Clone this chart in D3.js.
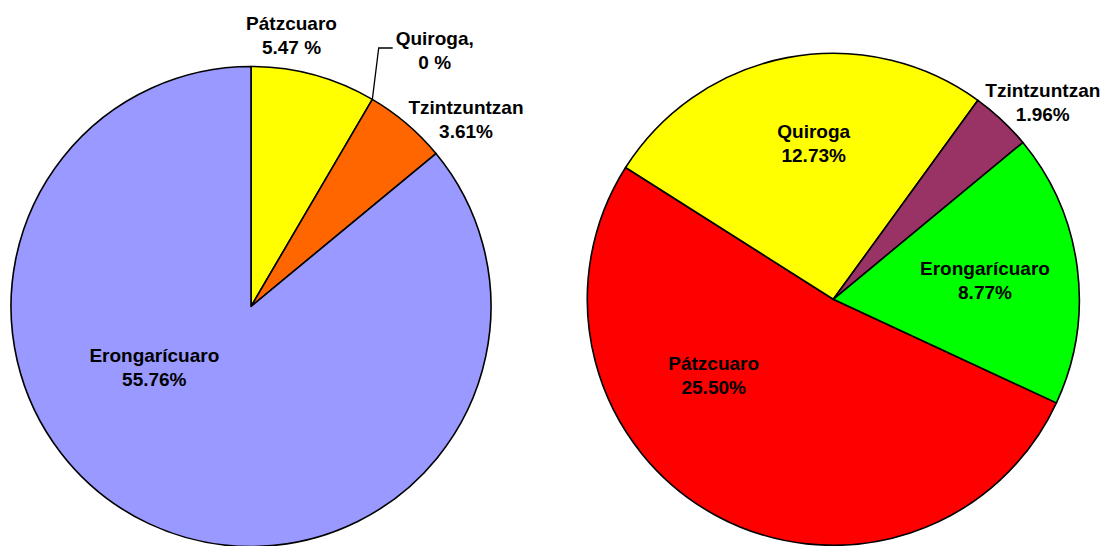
<!DOCTYPE html>
<html>
<head>
<meta charset="utf-8">
<script src="https://cdn.jsdelivr.net/npm/d3@7"></script>
<style>
  body { margin: 0; background: #fff; }
  svg { display: block; }
  .lbl { font-family: "Liberation Sans", Arial, sans-serif; font-weight: bold; font-size: 19px; fill: #000; }
</style>
</head>
<body>
<svg id="chart" width="1104" height="546"></svg>
<script>
// categories (same order in both pies)
var categories = ["Pátzcuaro", "Quiroga", "Tzintzuntzan", "Erongarícuaro"];

// left pie
var leftValues = [5.47, 0, 3.61, 55.76];
var leftNames = ["Pátzcuaro", "Quiroga,", "Tzintzuntzan", "Erongarícuaro"];
var leftPct = ["5.47 %", "0 %", "3.61%", "55.76%"];

// right pie
var rightValues = [25.50, 12.73, 1.96, 8.77];
var rightNames = ["Pátzcuaro", "Quiroga", "Tzintzuntzan", "Erongarícuaro"];
var rightPct = ["25.50%", "12.73%", "1.96%", "8.77%"];

var svg = d3.select("#chart");

var leftColor = d3.scaleOrdinal()
    .domain(categories)
    .range(["#FFFF00", "#00FFFF", "#FF6600", "#9999FF"]);

var rightColor = d3.scaleOrdinal()
    .domain(categories)
    .range(["#FF0000", "#FFFF00", "#993366", "#00FF00"]);

// label offsets from the pie center (first line baseline), hand tuned
var leftLabelPos = {
    "Pátzcuaro": [40.5, -277],
    "Quiroga": [183.7, -262],
    "Tzintzuntzan": [215, -193],
    "Erongarícuaro": [-96.7, 55.5]
};
var rightLabelPos = {
    "Pátzcuaro": [-119.6, 70.7],
    "Quiroga": [-19.6, -161.6],
    "Tzintzuntzan": [209.5, -202],
    "Erongarícuaro": [151.7, -24.3]
};

function drawPie(cx, cy, r, values, names, pcts, color, rotation, labelPos, leaderFor) {
    var data = categories.map(function(c, i) {
        return {cat: c, value: values[i], name: names[i], pct: pcts[i]};
    });

    var pie = d3.pie()
        .sort(null)
        .value(function(d) { return d.value; })
        .startAngle(rotation)
        .endAngle(rotation + 2 * Math.PI);

    var arc = d3.arc().innerRadius(0).outerRadius(r);

    var g = svg.append("g")
        .attr("transform", "translate(" + cx + "," + cy + ")");

    var arcs = pie(data);

    g.selectAll(".slice")
        .data(arcs.filter(function(d) { return d.data.value > 0; }))
        .enter()
        .append("path")
        .attr("class", "slice")
        .attr("d", arc)
        .attr("fill", function(d) { return color(d.data.cat); })
        .attr("stroke", "#000")
        .attr("stroke-width", 1.6)
        .attr("stroke-linejoin", "round");

    // leader line for a label that sits away from its slice
    arcs.forEach(function(d) {
        if (d.data.cat !== leaderFor) return;
        var a = d.startAngle;
        var p = labelPos[d.data.cat];
        var sx = r * Math.sin(a), sy = -r * Math.cos(a);
        var ey = p[1] + 3.5;
        g.append("path")
            .attr("d", "M" + sx + "," + sy + "L" + (p[0] - 56) + "," + ey + "L" + (p[0] - 42) + "," + ey)
            .attr("fill", "none")
            .attr("stroke", "#000")
            .attr("stroke-width", 1.3);
    });

    var texts = g.selectAll(".lbl")
        .data(arcs)
        .enter()
        .append("text")
        .attr("class", "lbl")
        .attr("text-anchor", "middle")
        .attr("x", function(d) { return labelPos[d.data.cat][0]; })
        .attr("y", function(d) { return labelPos[d.data.cat][1]; });

    texts.append("tspan")
        .attr("x", function(d) { return labelPos[d.data.cat][0]; })
        .text(function(d) { return d.data.name; });

    texts.append("tspan")
        .attr("x", function(d) { return labelPos[d.data.cat][0]; })
        .attr("dy", 24)
        .text(function(d) { return d.data.pct; });
}

drawPie(251, 306.5, 240, leftValues, leftNames, leftPct, leftColor, 0, leftLabelPos, "Quiroga");
drawPie(833.3, 299.3, 246, rightValues, rightNames, rightPct, rightColor, 114.9 * Math.PI / 180, rightLabelPos, null);
</script>
</body>
</html>
